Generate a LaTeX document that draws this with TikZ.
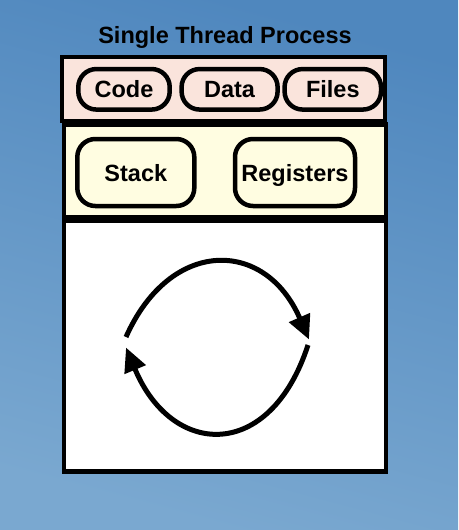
\documentclass[tikz,border=0pt]{standalone}
\usepackage{fontspec}
\setmainfont{Liberation Sans}
\usetikzlibrary{arrows.meta}
\definecolor{bgtop}{RGB}{79,135,190}
\definecolor{bgbot}{RGB}{122,168,208}
\definecolor{sharedpink}{RGB}{250,228,220}
\definecolor{threadyellow}{RGB}{255,253,225}

\begin{document}
\begin{tikzpicture}[x=1pt, y=-1pt,
		heading/.style={font=\fontsize{23.5}{28}\selectfont\bfseries, inner sep=0pt},
		areabox/.style={draw=black, line width=4.5pt, inner sep=0pt},
		pillbox/.style={draw=black, line width=4.5pt, rounded corners=18pt, inner sep=0pt,
			text height=17pt, text depth=0pt, font=\fontsize{23.5}{28}\selectfont\bfseries},
		runarrow/.style={line width=5pt, -{Triangle[length=24pt, width=22pt]}}]
		% Background
		\shade[top color=bgtop, bottom color=bgbot, shading angle=-15] (0,0) rectangle (458,530);
		
		% Title
		\node[heading, anchor=base] (title) at (225,43.3) {Single Thread Process};
		
		% Process areas
		\node[areabox, fill=white, minimum width=322pt, minimum height=250.5pt] (run) at (225,346.25) {};
		\node[areabox, fill=threadyellow, minimum width=322pt, minimum height=92.7pt] (thread) at (225,170.9) {};
		\node[areabox, fill=sharedpink, minimum width=323pt, minimum height=64pt] (shared) at (223.5,89) {};
		
		% Shared resources
		\node[pillbox, fill=sharedpink, minimum width=91.4pt, minimum height=40.5pt] (code) at (124,89.3) {Code};
		\node[pillbox, fill=sharedpink, minimum width=96pt, minimum height=40.5pt] (data) at (229.6,89.3) {Data};
		\node[pillbox, fill=sharedpink, minimum width=96.4pt, minimum height=40.5pt] (files) at (332.8,89.3) {Files};
		
		% Thread state
		\node[pillbox, fill=threadyellow, minimum width=117pt, minimum height=67pt] (stack) at (135.8,172.5) {Stack};
		\node[pillbox, fill=threadyellow, minimum width=120pt, minimum height=67pt] (regs) at (295,172.5) {Registers};
		
		% Execution loop
		\coordinate (runA) at (126,337);
		\coordinate (runB) at (309,339.5);
		\coordinate (runC) at (308,345);
		\coordinate (runD) at (126,347.5);
		\draw[runarrow] (runA) .. controls (170,238) and (265,238) .. (runB);
		\draw[runarrow] (runC) .. controls (270,462) and (172,458) .. (runD);
	\end{tikzpicture}
\end{document}
